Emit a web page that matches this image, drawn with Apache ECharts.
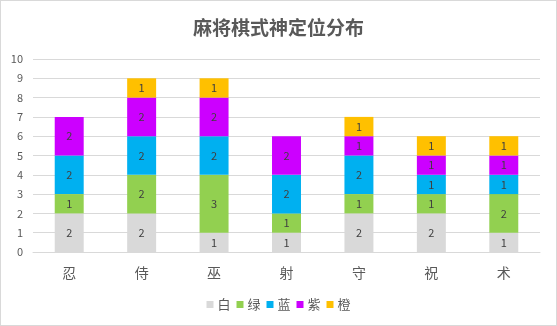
<!DOCTYPE html>
<html><head><meta charset="utf-8">
<script src="https://cdn.jsdelivr.net/npm/echarts@6/dist/echarts.min.js"></script>
<style>html,body{margin:0;padding:0;background:#fff}#c{width:557px;height:326px;box-sizing:border-box;border:1px solid #D9D9D9}</style>
</head><body><div id="c"></div>
<script>
const categories = ['忍','侍','巫','射','守','祝','术'];
const seriesNames = ['白','绿','蓝','紫','橙'];
const white = [2,2,1,1,2,2,1];
const green = [1,2,3,1,1,1,2];
const blue = [2,2,2,2,2,1,1];
const purple = [2,2,2,2,1,1,1];
const orange = [0,1,1,0,1,1,1];
const yTicks = [0,1,2,3,4,5,6,7,8,9,10];
const colors = ['#D9D9D9','#92D050','#00B0F0','#CC00FF','#FFC000'];
const values = [white, green, blue, purple, orange];
const font = '"Noto Sans CJK SC", "Microsoft YaHei", sans-serif';
const chart = echarts.init(document.getElementById('c'));
chart.setOption({
  animation:false,
  title:{text:'麻将棋式神定位分布',left:'center',top:12,textStyle:{fontFamily:font,fontSize:19,fontWeight:'bold',color:'#595959'}},
  legend:{bottom:9,left:'center',itemWidth:7,itemHeight:7,itemGap:6,icon:'rect',textStyle:{fontFamily:font,fontSize:13,color:'#595959',padding:[0,0,0,-1]},data:seriesNames},
  grid:{left:32,right:16,top:58,bottom:73,containLabel:false},
  xAxis:{type:'category',data:categories,axisLine:{lineStyle:{color:'#D9D9D9'}},axisTick:{show:false},axisLabel:{fontFamily:font,fontSize:14,color:'#595959',margin:14}},
  yAxis:{type:'value',min:yTicks[0],max:yTicks[yTicks.length-1],interval:1,axisLine:{show:false},axisTick:{show:false},splitLine:{lineStyle:{color:'#D9D9D9'}},axisLabel:{fontFamily:font,fontSize:11,color:'#595959',margin:10}},
  series: seriesNames.map((n,i)=>({
    name:n,type:'bar',stack:'a',barWidth:'40%',
    itemStyle:{color:colors[i]},
    data: values[i].map(v=>v===0?null:v),
    label:{show:true,position:'inside',fontFamily:font,fontSize:11,color:'#404040'}
  }))
});
</script></body></html>
